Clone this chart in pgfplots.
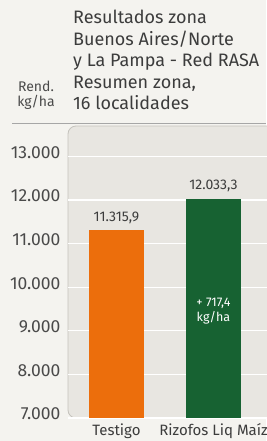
\documentclass[border=0pt]{standalone}
\usepackage{pgfplots}
\pgfplotsset{compat=1.18}
\usepackage{fontspec}
\setmainfont{Fira Sans}
\definecolor{bgc}{HTML}{F4F3EF}
\definecolor{plotc}{HTML}{E8E6E1}
\definecolor{edgec}{HTML}{C4C2BC}
\definecolor{orangec}{HTML}{EC6E0C}
\definecolor{greenc}{HTML}{176232}
\definecolor{txt}{HTML}{3C3C3C}
\definecolor{ticktxt}{HTML}{4A4A4A}
\begin{document}
\begin{tikzpicture}[x=1pt,y=1pt]
\fill[bgc] (0,0) rectangle (266,441);
\draw[gray!70, line width=0.8pt] (12,318) -- (266,318);
\begin{axis}[
  at={(68pt,23pt)}, anchor=south west,
  scale only axis, width=224pt, height=292pt,
  xmin=-0.5, xmax=1.81, ymin=7000, ymax=13700,
  axis background/.style={fill=plotc, draw=edgec, line width=0.8pt, rounded corners=8pt},
  axis line style={draw=none},
  major tick length=0pt,
  ytick={7000,8000,...,13000},
  ymajorgrids, grid style={white, line width=1.3pt},
  xtick={0,1}, xticklabels={Testigo, Rizofos Liq Maíz},
  scaled y ticks=false,
  /pgf/number format/assume math mode=true,
  yticklabel style={/pgf/number format/1000 sep={.}, font=\fontsize{17.5}{17.5}\selectfont, text=ticktxt, yshift=4pt, xshift=-4pt},
  xticklabel style={font=\fontsize{15}{15}\selectfont, text=txt, yshift=-2pt},
  ybar, bar width=55pt, bar shift=0pt,
  nodes near coords={\pgfmathprintnumber[fixed,fixed zerofill,precision=1,use comma,1000 sep={.}]{\pgfplotspointmeta}},
  every node near coord/.append style={font=\fontsize{14}{14}\selectfont, text=txt, yshift=3pt},
]
\addplot[fill=orangec, draw=none] coordinates {(0,11315.9)};
\addplot[fill=greenc, draw=none] coordinates {(1,12033.3)};
\node[align=center, text=white, font=\fontsize{12.5}{15}\selectfont] at (axis cs:1,9460) {+ 717,4\\kg/ha};
\end{axis}
\begin{scope}[text=txt, font=\fontsize{18}{18}\selectfont]
\node[anchor=base west, inner sep=0] at (73,417) {Resultados zona};
\node[anchor=base west, inner sep=0] at (73,395.5) {Buenos Aires/Norte};
\node[anchor=base west, inner sep=0] at (73,374) {y La Pampa - Red RASA};
\node[anchor=base west, inner sep=0] at (73,352.5) {Resumen zona,};
\node[anchor=base west, inner sep=0] at (73,331) {16 localidades};
\end{scope}
\node[anchor=base, inner sep=0, text=ticktxt, font=\fontsize{14}{14}\selectfont] at (36,349) {Rend.};
\node[anchor=base, inner sep=0, text=ticktxt, font=\fontsize{14}{14}\selectfont] at (36,334) {kg/ha};
\pgfresetboundingbox
\useasboundingbox (0,0) rectangle (266,441);
\end{tikzpicture}
\end{document}
